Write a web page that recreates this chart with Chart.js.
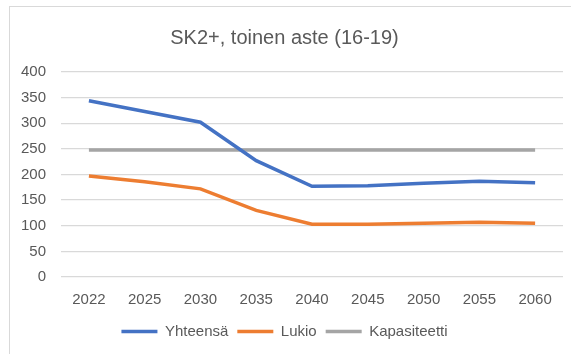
<!DOCTYPE html>
<html>
<head>
<meta charset="utf-8">
<script src="https://cdn.jsdelivr.net/npm/chart.js@4/dist/chart.umd.min.js"></script>
<style>
  html, body { margin: 0; padding: 0; background: #fff; overflow: hidden; }
  #frame { position: absolute; left: 9px; top: 6px; width: 600px; height: 400px; border: 1px solid #d9d9d9; }
  #wrap { position: absolute; left: 0; top: 0; width: 571px; height: 354px; }
</style>
</head>
<body>
<div id="frame"></div>
<div id="wrap"><canvas id="chart"></canvas></div>
<script>
// Years on the x axis
const years = ['2022', '2025', '2030', '2035', '2040', '2045', '2050', '2055', '2060'];
// Pupil counts per series
const yhteensa = [344, 323, 302, 227, 177, 178, 183, 187, 184];
const lukio = [197, 186, 172, 130, 103, 103, 105, 107, 105];
const kapasiteetti = [248, 248, 248, 248, 248, 248, 248, 248, 248];

const fontFamily = '"Liberation Sans", Arial, sans-serif';
const textColor = '#595959';

function lineSet(label, data, color) {
    return {
        label: label,
        data: data,
        borderColor: color,
        backgroundColor: color,
        borderWidth: 3.5,
        pointRadius: 0,
        pointHoverRadius: 0,
        pointStyle: 'line',
        tension: 0,
        fill: false,
    };
}

new Chart(document.getElementById('chart'), {
    type: 'line',
    data: {
        labels: years,
        datasets: [
            lineSet('Yhteensä', yhteensa, '#4472C4'),
            lineSet('Lukio', lukio, '#ED7D31'),
            lineSet('Kapasiteetti', kapasiteetti, '#A5A5A5'),
        ],
    },
    options: {
        responsive: true,
        maintainAspectRatio: false,
        animation: false,
        layout: { padding: { left: 6, right: 8, top: 0, bottom: 5 } },
        plugins: {
            title: {
                display: true,
                text: 'SK2+, toinen aste (16-19)',
                color: textColor,
                font: { family: fontFamily, size: 20, weight: 'normal' },
                padding: { top: 26, bottom: 22 },
            },
            legend: {
                position: 'bottom',
                labels: {
                    usePointStyle: true,
                    pointStyleWidth: 36,
                    color: textColor,
                    padding: 9,
                    font: { family: fontFamily, size: 15 },
                },
            },
            tooltip: { enabled: false },
        },
        scales: {
            x: {
                offset: true,
                grid: { display: false },
                border: { display: false },
                ticks: { color: textColor, font: { family: fontFamily, size: 15 }, padding: 6 },
            },
            y: {
                min: 0,
                max: 400,
                grid: { color: '#d9d9d9', lineWidth: 1.3, drawTicks: false },
                border: { display: false },
                ticks: { stepSize: 50, color: textColor, font: { family: fontFamily, size: 15 }, padding: 15 },
            },
        },
    },
});
</script>
</body>
</html>
